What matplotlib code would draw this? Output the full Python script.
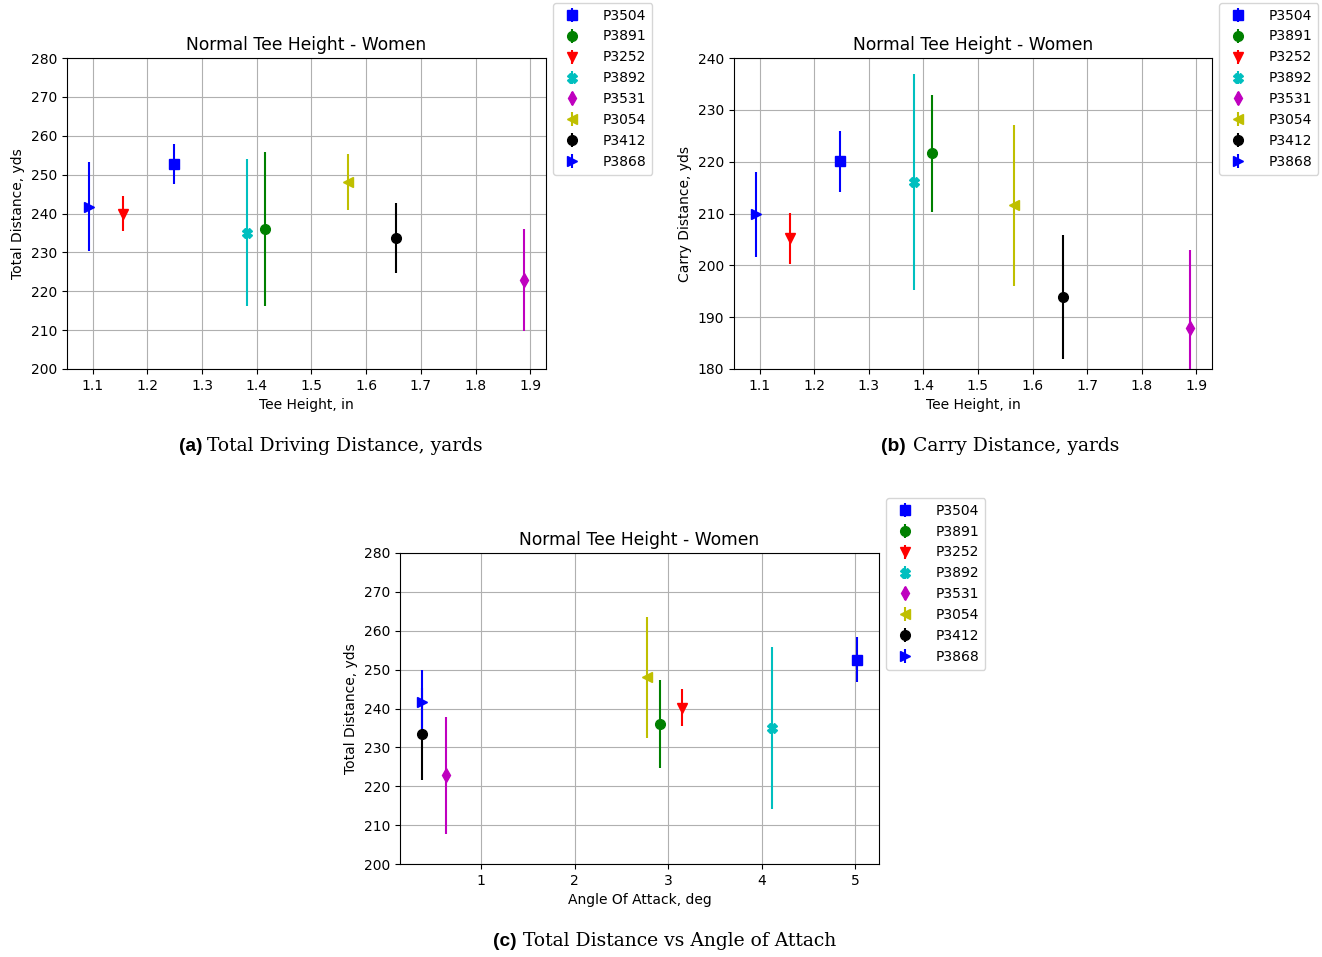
import numpy as np
import matplotlib
matplotlib.use("Agg")
import matplotlib.pyplot as plt

# Spillere og stil for hvert merke
players = ["P3504", "P3891", "P3252", "P3892", "P3531", "P3054", "P3412", "P3868"]
fmts = ["bs", "go", "rv", "cX", "md", "y<", "ko", "b>"]

# Tee-høyde (in) for hver spiller
tee_height = [1.248, 1.416, 1.155, 1.383, 1.889, 1.566, 1.655, 1.093]

# Total lengde (yds) og standardavvik
total_dist = [252.7, 236.0, 240.0, 235.1, 222.9, 248.0, 233.6, 241.8]
total_err = [5.2, 19.7, 4.4, 19.0, 13.0, 7.2, 9.0, 11.4]

# Carry-lengde (yds) og standardavvik
carry_dist = [220.1, 221.6, 205.2, 216.1, 187.9, 211.6, 193.9, 209.9]
carry_err = [5.9, 11.3, 4.9, 20.9, 15.0, 15.5, 11.9, 8.2]

# Angrepsvinkel (grader) med total lengde
attack_angle = [5.02, 2.914, 3.142, 4.105, 0.629, 2.768, 0.366, 0.366]
total_dist_aoa = [252.6, 236.0, 240.2, 235.0, 222.8, 248.0, 233.5, 241.7]
total_err_aoa = [5.8, 11.4, 4.8, 20.8, 15.0, 15.6, 11.8, 8.3]

W, H = 1322, 957
fig = plt.figure(figsize=(W / 100, H / 100), dpi=100)


def px_axes(left, top, right, bottom):
    return fig.add_axes([left / W, 1 - bottom / H, (right - left) / W, (bottom - top) / H])


def tegn(ax, x, y, yerr, xlabel, ylabel, ylim):
    for i in range(len(players)):
        ax.errorbar(x[i], y[i], yerr=yerr[i], fmt=fmts[i], markersize=7, label=players[i])
    ax.set_ylim(*ylim)
    ax.set_xlabel(xlabel)
    ax.set_ylabel(ylabel)
    ax.set_title("Normal Tee Height - Women", fontsize=12.3)
    ax.grid(True)


leg_kw = dict(loc="upper left", borderaxespad=0, handletextpad=1.2, fontsize=10)

ax1 = px_axes(67, 58, 546, 369)
tegn(ax1, tee_height, total_dist, total_err, "Tee Height, in", "Total Distance, yds", (200, 280))
ax1.legend(bbox_to_anchor=(486 / 479, 366 / 311), **leg_kw)

ax2 = px_axes(734, 58, 1212, 369)
tegn(ax2, tee_height, carry_dist, carry_err, "Tee Height, in", "Carry Distance, yds", (180, 240))
ax2.legend(bbox_to_anchor=(485 / 478, 366 / 311), **leg_kw)

ax3 = px_axes(400, 553, 879, 864)
tegn(ax3, attack_angle, total_dist_aoa, total_err_aoa, "Angle Of Attack, deg", "Total Distance, yds", (200, 280))
ax3.legend(bbox_to_anchor=(486 / 479, 366 / 311), **leg_kw)

# Figurtekster under hvert panel
captions = [
    (179, 207, 451, "(a)", "Total Driving Distance, yards"),
    (881, 913, 451, "(b)", "Carry Distance, yards"),
    (493, 523, 946, "(c)", "Total Distance vs Angle of Attach"),
]
for xl, xt, yb, lab, txt in captions:
    fig.text(xl / W, 1 - yb / H, lab, fontsize=13.8, fontweight="bold",
             family="Liberation Sans", va="baseline")
    fig.text(xt / W, 1 - yb / H, txt, fontsize=13.5, family="DejaVu Serif", va="baseline")

fig.savefig("out.png", dpi=100)
